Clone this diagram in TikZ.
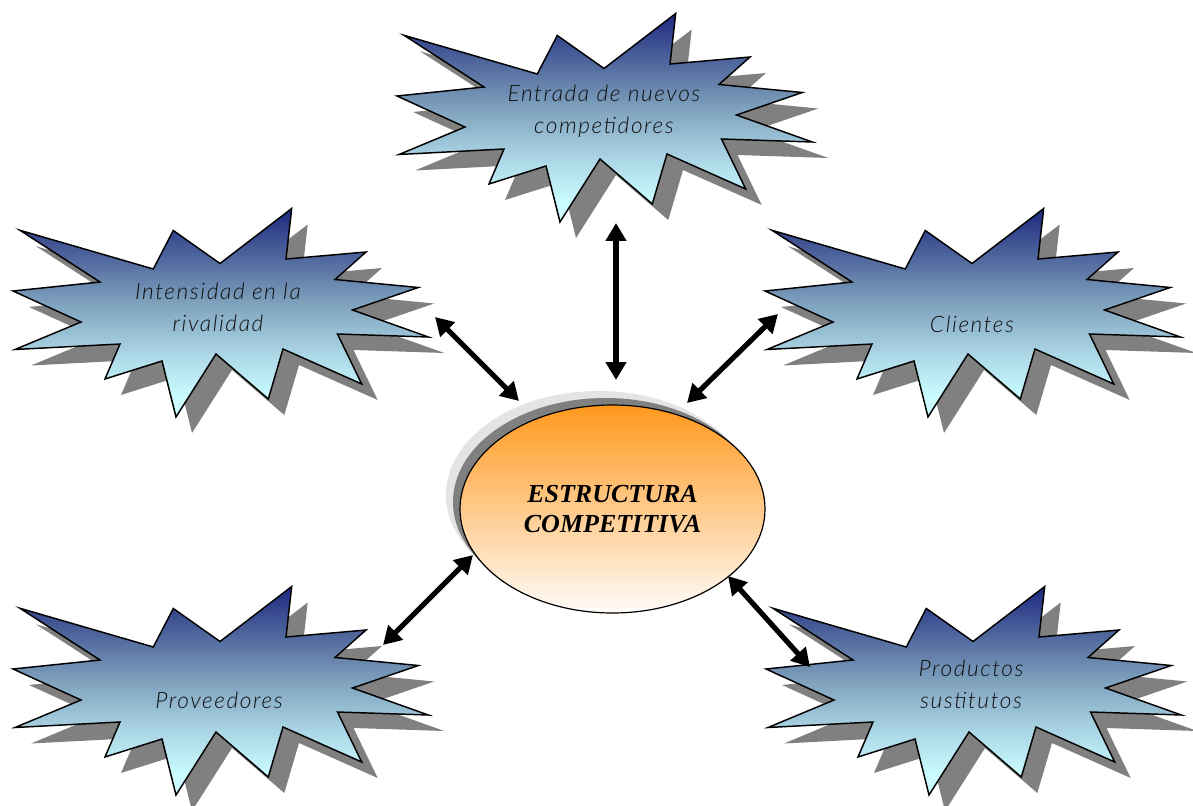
\documentclass[tikz,border=0pt]{standalone}
\usepackage{fontspec}
\usetikzlibrary{arrows.meta,shapes.geometric}
\newfontfamily\handfont{Lato Light Italic}[LetterSpace=7]
\newfontfamily\serifbold{Liberation Serif}

\definecolor{navy}{RGB}{30,40,130}
\definecolor{dusk}{RGB}{72,94,152}
\definecolor{steel}{RGB}{128,163,190}
\definecolor{mist}{RGB}{172,215,230}
\definecolor{ice}{RGB}{202,252,255}
\definecolor{amber}{RGB}{255,152,28}
\definecolor{peach}{RGB}{255,203,172}
\definecolor{blush}{RGB}{255,252,250}
\definecolor{dropgrey}{RGB}{128,128,128}
\definecolor{halogrey}{RGB}{228,228,228}
\definecolor{ink}{RGB}{15,15,15}

% vertical fill of the bursts; the path box spans 25bp..75bp
\pgfdeclareverticalshading{burstfill}{100bp}{color(0bp)=(ice); color(30bp)=(ice);
  color(40bp)=(mist); color(52bp)=(steel); color(65bp)=(dusk);
  color(75bp)=(navy); color(100bp)=(navy)}

% outline of one explosion burst (12 spikes)
\def\burstoutline{(20,608.3) -- (153.3,647) -- (173.3,608.5) -- (220,641.5)
  -- (291.7,586.5) -- (286,637) -- (366,630) -- (335,657.5) -- (418.3,665.5)
  -- (352.5,688) -- (428.3,715) -- (337.5,712) -- (361.7,762) -- (283,727)
  -- (268.3,777) -- (216,732) -- (176,795) -- (162,739) -- (105,757)
  -- (120,722) -- (15,727.5) -- (81,700) -- (13,669) -- (100,660) -- cycle}

\tikzset{
  burst/.pic={
    \fill[dropgrey, shift={(16,16)}] \burstoutline;
    \draw[line width=1.1pt, line join=miter, shading=burstfill] \burstoutline;
  },
  burstlabel/.style={font=\handfont\fontsize{17}{24}\selectfont, text=ink,
    align=center, inner sep=0pt},
  duplex/.style={line width=3.9pt,
    {Triangle[width=15pt,length=13.5pt]}-{Triangle[width=15pt,length=13.5pt]}},
  oval/.style={ellipse, minimum width=228.75pt, minimum height=156pt, inner sep=0pt}
}

\begin{document}
\begin{tikzpicture}[x=0.75pt,y=-0.75pt]
\useasboundingbox (0,0) rectangle (1193,806);

% the five forces as bursts
\pic at (0,0) {burst};
\pic at (0,-378) {burst};
\pic at (384,-573) {burst};
\pic at (752,-378) {burst};
\pic at (753,0) {burst};

\node[burstlabel] (entrantes) at (604,111) {Entrada de nuevos\\competidores};
\node[burstlabel] (rivalidad) at (218,307) {Intensidad en la\\rivalidad};
\node[burstlabel] (clientes) at (972,324) {Clientes};
\node[burstlabel] (proveedores) at (219,700) {Proveedores};
\node[burstlabel] (sustitutos) at (971,684) {Productos\\sustitutos};

% central ellipse with its layered shadow
\node[oval, fill=halogrey] (halo) at (598.5,495) {};
\node[oval, fill=dropgrey] (drop) at (605.5,502) {};
\node[oval, draw, line width=0.9pt, top color=amber, middle color=peach,
      bottom color=blush, align=center,
      font=\serifbold\bfseries\itshape\fontsize{19.5}{22.5}\selectfont]
      (core) at (612.5,509) {ESTRUCTURA\\COMPETITIVA};

% arrow ends
\coordinate (rivalEnd) at (435,317);
\coordinate (coreRival) at (519,401);
\coordinate (entraEnd) at (616,223);
\coordinate (coreEntra) at (616,380);
\coordinate (clienEnd) at (778,314);
\coordinate (coreClien) at (687,403);
\coordinate (proveEnd) at (383,645);
\coordinate (coreProve) at (473,555);
\coordinate (sustiEnd) at (810,667);
\coordinate (coreSusti) at (728,576);

\draw[duplex] (rivalEnd) -- (coreRival);
\draw[duplex] (entraEnd) -- (coreEntra);
\draw[duplex] (clienEnd) -- (coreClien);
\draw[duplex] (proveEnd) -- (coreProve);
\draw[duplex] (sustiEnd) -- (coreSusti);
\end{tikzpicture}
\end{document}
